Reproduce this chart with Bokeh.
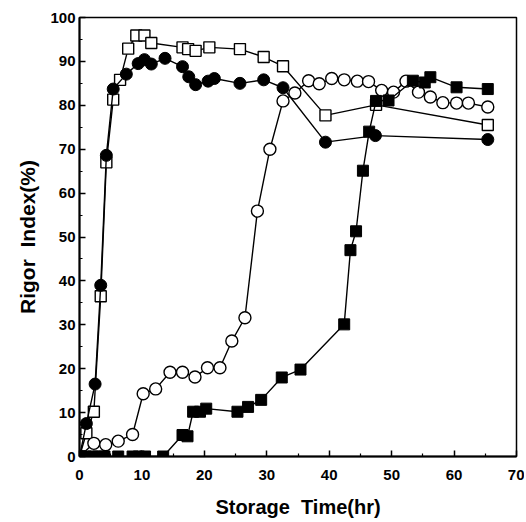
from bokeh.plotting import figure
from bokeh.models import FixedTicker, Range1d
from bokeh.embed import file_html
from bokeh.resources import INLINE

# Storage time (hr) and rigor index (%) per series
t_fc = [0, 1.1, 2.5, 3.4, 4.3, 5.4, 7.5, 9.4, 10.4, 11.5, 13.7, 16.5, 17.5, 18.6, 20.6, 21.6, 25.7, 29.5, 32.6, 39.4, 47.4, 65.4]
y_fc = [0, 7.5, 16.5, 39, 68.6, 83.7, 87.1, 89.5, 90.4, 89.4, 90.7, 88.8, 86.5, 84.7, 85.5, 86.1, 85, 85.8, 84, 71.6, 73.1, 72.2]

t_os = [0, 1.1, 2.3, 3.4, 4.3, 5.4, 6.5, 7.8, 9.1, 10.4, 11.5, 16.5, 17.4, 18.6, 20.8, 25.7, 29.5, 32.6, 39.4, 47.5, 65.4]
y_os = [0, 5.3, 10.2, 36.5, 67, 81.3, 85.8, 92.9, 95.9, 95.9, 94.2, 93.2, 92.8, 92.4, 93.2, 92.8, 91, 88.9, 77.7, 80.1, 75.5]

t_oc = [0, 2.3, 4.2, 6.2, 8.5, 10.2, 12.2, 14.5, 16.5, 18.5, 20.5, 22.5, 24.4, 26.5, 28.5, 30.5, 32.6, 34.5, 36.7, 38.4, 40.4, 42.4, 44.5, 46.3, 48.4, 50.3, 52.3, 54.3, 56.2, 58.2, 60.4, 62.3, 65.4]
y_oc = [0, 3, 2.7, 3.5, 5, 14.3, 15.4, 19.2, 19.2, 18.1, 20.2, 20.2, 26.3, 31.6, 55.9, 70, 81, 82.8, 85.6, 84.9, 86.1, 85.8, 85.5, 85.4, 83.4, 83, 85.5, 83, 81.9, 80.6, 80.5, 80.5, 79.6]

t_fs = [0, 1, 2.2, 3, 4, 6.2, 8.5, 9.5, 10.5, 13.4, 16.5, 17.3, 18.2, 19.3, 20.3, 25.3, 27, 29.1, 32.4, 35.4, 42.4, 43.4, 44.3, 45.4, 46.4, 47.5, 49.5, 53.4, 55.3, 56.2, 60.4, 65.4]
y_fs = [0, 0, 0, 0, 0, 0, 0, 0, 0, 0, 4.9, 4.6, 10.2, 10.2, 10.9, 10.2, 11.3, 12.9, 18, 19.8, 30.1, 47, 51.3, 65.1, 74, 81, 81.1, 85.6, 85.2, 86.4, 84.1, 83.7]

x_ticks = [0, 10, 20, 30, 40, 50, 60, 70]
y_ticks = [0, 10, 20, 30, 40, 50, 60, 70, 80, 90, 100]

p = figure(width=524, height=520, output_backend="svg", toolbar_location=None,
           x_range=Range1d(0, 70), y_range=Range1d(0, 100),
           min_border_left=79, min_border_right=8, min_border_top=17, min_border_bottom=60)
p.grid.visible = False
p.outline_line_color = "black"
p.outline_line_width = 1.5
p.background_fill_color = "white"
p.border_fill_color = "white"

p.xaxis.ticker = FixedTicker(ticks=x_ticks, minor_ticks=[5, 15, 25, 35, 45, 55, 65])
p.yaxis.ticker = FixedTicker(ticks=y_ticks, minor_ticks=[5, 15, 25, 35, 45, 55, 65, 75, 85, 95])
for ax in (p.xaxis[0], p.yaxis[0]):
    ax.major_tick_in = 6
    ax.major_tick_out = 0
    ax.minor_tick_in = 3
    ax.minor_tick_out = 0
    ax.axis_line_width = 2
    ax.major_tick_line_width = 1.5
    ax.minor_tick_line_width = 1.2
    ax.major_label_text_font = "Liberation Sans"
    ax.major_label_text_font_style = "bold"
    ax.major_label_text_font_size = "15px"
    ax.major_label_text_color = "black"
    ax.axis_label_text_font = "Liberation Sans"
    ax.axis_label_text_font_style = "bold"
    ax.axis_label_text_color = "black"

p.xaxis.axis_label = "Storage\u00a0\u00a0Time(hr)"
p.yaxis.axis_label = "Rigor\u00a0\u00a0Index(%)"
p.xaxis.axis_label_text_font_size = "20px"
p.yaxis.axis_label_text_font_size = "21px"
p.xaxis.major_label_standoff = 13
p.xaxis.axis_label_standoff = 13
p.yaxis.major_label_standoff = 4
p.yaxis.axis_label_standoff = 8

lw = 1.4
p.line(t_os, y_os, line_color="black", line_width=lw)
p.scatter(t_os, y_os, marker="square", size=11, fill_color="white", line_color="black", line_width=1.4)

p.line(t_fc, y_fc, line_color="black", line_width=lw)
p.scatter(t_fc, y_fc, marker="circle", size=12, fill_color="black", line_color="black")

p.line(t_oc, y_oc, line_color="black", line_width=lw)
p.scatter(t_oc, y_oc, marker="circle", size=12, fill_color="white", line_color="black", line_width=1.4)

p.line(t_fs, y_fs, line_color="black", line_width=lw)
p.scatter(t_fs, y_fs, marker="square", size=11, fill_color="black", line_color="black")

open("out.html", "w").write(file_html(p, INLINE))
